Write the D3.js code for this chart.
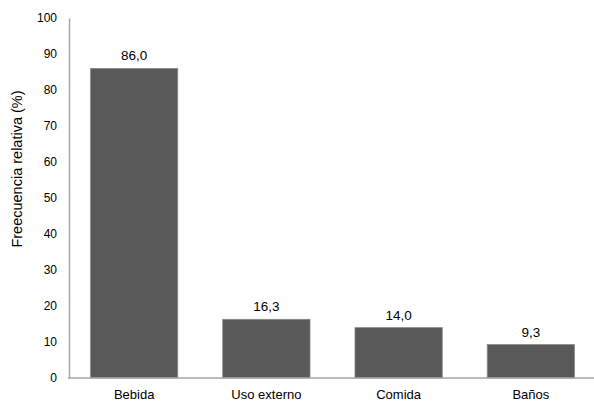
<!DOCTYPE html>
<html><head><meta charset="utf-8">
<script src="https://cdn.jsdelivr.net/npm/d3@7"></script>
<style>body{margin:0;background:#fff}svg{display:block}text{font-family:"Liberation Sans",Arial,sans-serif;fill:#000}</style>
</head><body><svg id="c" width="594" height="404"></svg>
<script>
const categories = ["Bebida", "Uso externo", "Comida", "Baños"];
const values = [86.0, 16.3, 14.0, 9.3];
const yTicks = [0, 10, 20, 30, 40, 50, 60, 70, 80, 90, 100];
const yTitle = "Freecuencia relativa (%)";

const svg = d3.select("#c");
const x = d3.scaleBand().domain(categories).range([68, 597]).paddingInner(0.34).paddingOuter(0.17);
const y = d3.scaleLinear().domain([0, 100]).range([378, 18]);
const fmt = v => v.toFixed(1).replace(".", ",");

svg.selectAll("rect.bar").data(values).join("rect")
  .attr("class", "bar")
  .attr("x", (d, i) => x(categories[i]))
  .attr("width", x.bandwidth())
  .attr("y", d => y(d))
  .attr("height", d => y(0) - y(d))
  .attr("fill", "#595959")
  .attr("stroke", "#8a8a8a")
  .attr("stroke-width", 0.8);

const ya = svg.append("g").attr("transform", "translate(69,0)")
  .call(d3.axisLeft(y).tickValues(yTicks).tickSize(0).tickPadding(12).tickFormat(d3.format("d")));
ya.select(".domain").attr("stroke", "#a6a6a6").attr("stroke-width", 1.5);
ya.selectAll("text").attr("font-size", 12).attr("fill", "#000").attr("font-family", "Liberation Sans, Arial, sans-serif");

const xa = svg.append("g").attr("transform", "translate(0,378)")
  .call(d3.axisBottom(x).tickSize(0).tickPadding(12));
xa.select(".domain").attr("stroke", "#a6a6a6").attr("stroke-width", 1.5).attr("d", "M68,0H594");
xa.selectAll("text").attr("font-size", 13).attr("fill", "#000").attr("font-family", "Liberation Sans, Arial, sans-serif");

svg.selectAll("text.lbl").data(values).join("text")
  .attr("class", "lbl")
  .attr("x", (d, i) => x(categories[i]) + x.bandwidth() / 2)
  .attr("y", d => y(d) - 8)
  .attr("text-anchor", "middle")
  .attr("font-size", 13.5)
  .text(d => fmt(d));

svg.append("text")
  .attr("transform", "translate(22,169) rotate(-90)")
  .attr("text-anchor", "middle")
  .attr("font-size", 14.5)
  .text(yTitle);
</script></body></html>
